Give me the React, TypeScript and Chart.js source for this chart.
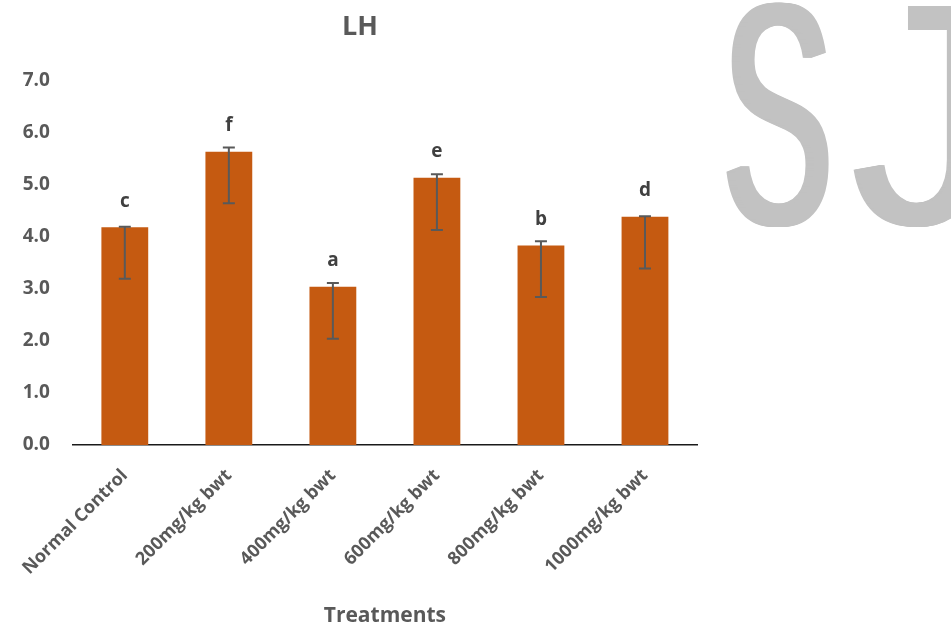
import React, { useEffect, useRef } from "react";
import { Chart, registerables } from "chart.js";

Chart.register(...registerables);

const categories = [
  "Normal Control",
  "200mg/kg bwt",
  "400mg/kg bwt",
  "600mg/kg bwt",
  "800mg/kg bwt",
  "1000mg/kg bwt",
];
const lhValues = [4.18, 5.63, 3.04, 5.13, 3.83, 4.38];
const errorUpper = [4.19, 5.71, 3.11, 5.2, 3.91, 4.39];
const errorLower = [3.19, 4.64, 2.04, 4.13, 2.84, 3.39];
const letters = ["c", "f", "a", "e", "b", "d"];
const yTicks = [0, 1, 2, 3, 4, 5, 6, 7];
const watermark = ["S", "J"];

const FONT = "'Open Sans', Lato, sans-serif";

const errorBarPlugin = {
  id: "errorBars",
  afterDatasetsDraw(chart: any) {
    const ctx = chart.ctx;
    const meta = chart.getDatasetMeta(0);
    const y = chart.scales.y;
    ctx.save();
    ctx.strokeStyle = "#595959";
    ctx.lineWidth = 2;
    meta.data.forEach((bar: any, i: number) => {
      const x = bar.x;
      const yh = y.getPixelForValue(errorUpper[i]);
      const yl = y.getPixelForValue(errorLower[i]);
      ctx.beginPath();
      ctx.moveTo(x, yh);
      ctx.lineTo(x, yl);
      ctx.moveTo(x - 6, yh);
      ctx.lineTo(x + 6, yh);
      ctx.moveTo(x - 6, yl);
      ctx.lineTo(x + 6, yl);
      ctx.stroke();
    });
    ctx.fillStyle = "#404040";
    ctx.font = `bold 19px ${FONT}`;
    ctx.textAlign = "center";
    ctx.textBaseline = "middle";
    meta.data.forEach((bar: any, i: number) => {
      ctx.fillText(letters[i], bar.x, bar.y - 26);
    });
    ctx.restore();
  },
};

function smearText(ctx: any, text: string, x: number, y: number, sx: number, smear: number) {
  for (let d = 0; d <= smear; d += 1) {
    ctx.save();
    ctx.translate(x + d, y);
    ctx.scale(sx, 1);
    ctx.fillText(text, 0, 0);
    ctx.restore();
  }
}

const watermarkPlugin = {
  id: "watermark",
  afterDraw(chart: any) {
    const ctx = chart.ctx;
    ctx.save();
    ctx.fillStyle = "#C2C2C2";
    ctx.font = `317px 'Liberation Sans', Arial, sans-serif`;
    ctx.textBaseline = "alphabetic";
    ctx.textAlign = "left";
    smearText(ctx, watermark[0], 719, 224, 0.516, 8);
    smearText(ctx, watermark[1], 849, 224, 0.927, 4);
    ctx.restore();
  },
};

export default function App() {
  const ref = useRef<HTMLCanvasElement | null>(null);
  useEffect(() => {
    if (!ref.current) return;
    const chart = new Chart(ref.current, {
      type: "bar",
      data: {
        labels: categories,
        datasets: [
          {
            label: "LH",
            data: lhValues,
            backgroundColor: "#C55A11",
            borderWidth: 0,
            barPercentage: 0.45,
            categoryPercentage: 1,
          },
        ],
      },
      options: {
        responsive: false,
        animation: false,
        layout: { padding: { left: 0, right: 231, top: 0, bottom: 0 } },
        plugins: {
          legend: { display: false },
          tooltip: { enabled: false },
          title: {
            display: true,
            text: "LH",
            color: "#595959",
            font: { family: FONT, size: 27, weight: "bold" },
            padding: { top: 11, bottom: 37 },
          },
        },
        scales: {
          x: {
            grid: { display: false, drawTicks: false },
            border: { display: true, color: "#1a1a1a", width: 1.5 },
            ticks: {
              color: "#595959",
              font: { family: FONT, size: 18, weight: "bold" },
              minRotation: 45,
              maxRotation: 45,
              padding: 20,
              autoSkip: false,
            },
            title: {
              display: true,
              text: "Treatments",
              color: "#595959",
              font: { family: FONT, size: 21, weight: "bold" },
              padding: { top: 0, bottom: 3 },
            },
            afterFit: (s: any) => {
              s.height = 187;
            },
          },
          y: {
            min: 0,
            max: 7,
            grid: { display: false, drawTicks: false },
            border: { display: false },
            afterBuildTicks: (s: any) => {
              s.ticks = yTicks.map((v) => ({ value: v }));
            },
            ticks: {
              color: "#595959",
              font: { family: FONT, size: 19, weight: "bold" },
              padding: 23,
              callback: (v: any) => Number(v).toFixed(1),
            },
            afterFit: (s: any) => {
              s.width = 72;
            },
          },
          yR: {
            type: "linear",
            position: "right",
            display: true,
            grid: { display: false, drawTicks: false },
            border: { display: false },
            ticks: { display: false },
            afterFit: (s: any) => {
              s.width = 23;
            },
          },
        },
      },
      plugins: [errorBarPlugin, watermarkPlugin],
    });
    return () => chart.destroy();
  }, []);
  return (
    <div style={{ position: "absolute", left: 0, top: 0, width: 951, height: 632, background: "#fff" }}>
      <canvas ref={ref} width={951} height={632} />
    </div>
  );
}
